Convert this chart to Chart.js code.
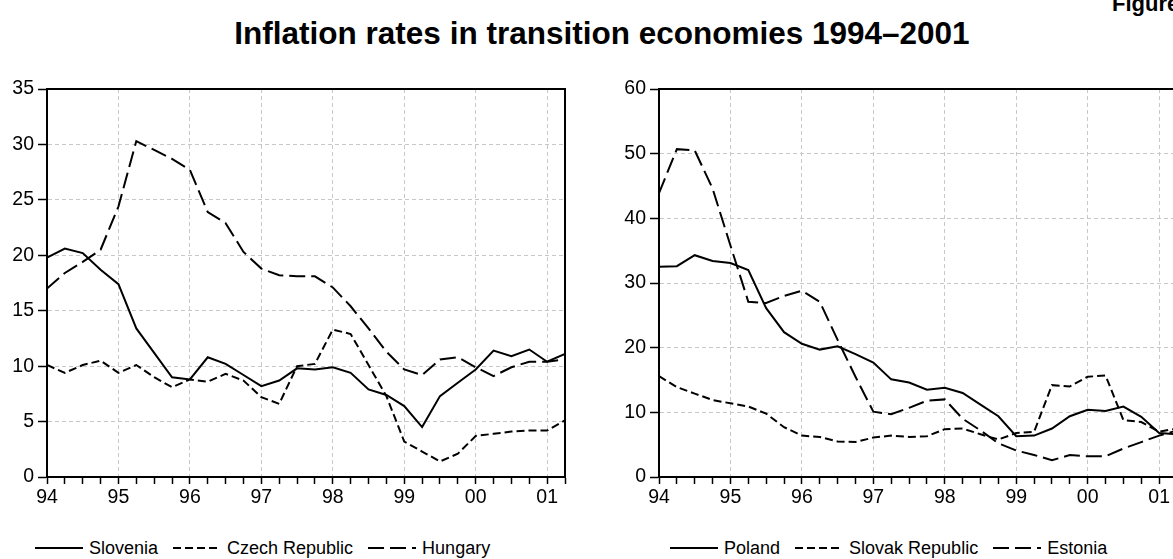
<!DOCTYPE html>
<html>
<head>
<meta charset="utf-8">
<script src="https://cdn.jsdelivr.net/npm/chart.js@4.4.1/dist/chart.umd.min.js"></script>
<style>
  html, body { margin: 0; padding: 0; background: #fff; }
  body { width: 1173px; height: 559px; overflow: hidden; position: relative; font-family: "Liberation Sans", Arial, sans-serif; }
  #title { position: absolute; left: 0; width: 1204px; top: 16px; text-align: center; font-weight: bold; font-size: 31.5px; line-height: 34px; color: #000; }
  #fig { position: absolute; left: 1112px; top: -8px; font-weight: bold; font-size: 22px; line-height: 24px; white-space: nowrap; }
  canvas { position: absolute; top: 70px; }
  #left { left: 0; }
  #right { left: 612px; }
  .legend { position: absolute; top: 537px; display: flex; align-items: center; white-space: nowrap; font-size: 18px; line-height: 22px; color: #000; }
  .legend .item { display: flex; align-items: center; margin-right: 15px; }
  .legend svg { margin-right: 6px; }
</style>
</head>
<body>
<div id="title">Inflation rates in transition economies 1994–2001</div>
<div id="fig">Figure</div>
<canvas id="left" width="575" height="437"></canvas>
<canvas id="right" width="575" height="437"></canvas>
<div class="legend" id="legendLeft" style="left:35px"></div>
<div class="legend" id="legendRight" style="left:670px"></div>
<script>
// quarterly data, 1994Q1 .. 2001Q2
const yearLabels = ['94', '95', '96', '97', '98', '99', '00', '01'];

const slovenia = [19.8, 20.6, 20.2, 18.7, 17.4, 13.4, 11.2, 9.0, 8.8, 10.8, 10.2, 9.2, 8.2, 8.7, 9.8,
                  9.7, 9.9, 9.4, 7.9, 7.4, 6.4, 4.5, 7.3, 8.5, 9.7, 11.4, 10.9, 11.5, 10.4, 11.1];
const czech = [10.1, 9.4, 10.1, 10.5, 9.4, 10.1, 9.0, 8.1, 8.8, 8.6, 9.3, 8.7, 7.2, 6.6, 10.0,
               10.2, 13.3, 12.9, 10.1, 7.3, 3.2, 2.3, 1.4, 2.1, 3.7, 3.9, 4.1, 4.2, 4.2, 5.1];
const hungary = [17.0, 18.4, 19.4, 20.5, 24.4, 30.3, 29.5, 28.7, 27.7, 23.9, 22.9, 20.3, 18.8, 18.2, 18.1,
                 18.1, 17.1, 15.4, 13.4, 11.3, 9.7, 9.2, 10.6, 10.8, 9.9, 9.1, 9.9, 10.4, 10.4, 10.6];

const poland = [32.5, 32.6, 34.3, 33.4, 33.1, 32.0, 26.1, 22.4, 20.6, 19.7, 20.2, 19.0, 17.7, 15.1, 14.6,
                13.5, 13.8, 13.0, 11.2, 9.4, 6.3, 6.4, 7.5, 9.4, 10.4, 10.2, 10.9, 9.3, 6.8, 6.6];
const slovak = [15.6, 13.9, 12.9, 11.9, 11.4, 10.9, 9.8, 7.7, 6.4, 6.2, 5.5, 5.4, 6.1, 6.4, 6.2,
                6.3, 7.4, 7.5, 6.6, 5.8, 6.8, 7.0, 14.2, 14.0, 15.5, 15.7, 8.8, 8.5, 7.0, 7.5];
const estonia = [43.9, 50.7, 50.5, 44.6, 35.8, 27.1, 26.9, 28.0, 28.8, 27.1, 21.2, 15.5, 10.1, 9.7, 10.7,
                 11.8, 12.0, 9.0, 7.2, 5.2, 4.1, 3.4, 2.6, 3.4, 3.2, 3.2, 4.4, 5.4, 6.4, 7.2];

// line styles: solid / short dash / long dash
const styles = [[], [8, 4], [16, 6]];

function toPoints(arr) {
    return arr.map((v, i) => ({ x: i, y: v }));
}

// black box around the plot area
const framePlugin = {
    id: 'frame',
    afterDraw(chart) {
        const a = chart.chartArea;
        const ctx = chart.ctx;
        ctx.save();
        ctx.strokeStyle = '#000';
        ctx.lineWidth = 2;
        ctx.strokeRect(a.left, a.top, a.right - a.left, a.bottom - a.top);
        ctx.restore();
    }
};

Chart.defaults.font.family = '"Liberation Sans", Arial, sans-serif';
Chart.defaults.font.size = 19.5;
Chart.defaults.color = '#000';

function makeChart(id, names, series, yMax, yStep) {
    const datasets = series.map((s, k) => ({
        label: names[k],
        data: toPoints(s),
        borderColor: '#000',
        borderWidth: 2,
        borderDash: styles[k],
        pointRadius: 0,
        tension: 0,
        fill: false
    }));
    return new Chart(document.getElementById(id), {
        type: 'line',
        data: { datasets: datasets },
        options: {
            responsive: false,
            animation: false,
            layout: { padding: { top: 19, right: 10, bottom: 0, left: 0 } },
            plugins: { legend: { display: false }, tooltip: { enabled: false } },
            scales: {
                x: {
                    type: 'linear',
                    min: 0,
                    max: series[0].length - 1,
                    afterFit: (scale) => { scale.height = 30; },
                    ticks: {
                        stepSize: 1,
                        autoSkip: false,
                        maxRotation: 0,
                        padding: 2,
                        callback: (v) => (v % 4 === 0 ? yearLabels[v / 4] : '')
                    },
                    grid: {
                        color: (c) => (c.tick && c.tick.value % 4 === 0 && c.tick.value > 0 ? '#c8c8c8' : 'rgba(0,0,0,0)'),
                        tickColor: '#000',
                        tickLength: 7,
                        tickWidth: 1.5,
                        lineWidth: 1
                    },
                    border: { color: '#000', width: 2, dash: [4, 3] }
                },
                y: {
                    min: 0,
                    max: yMax,
                    afterFit: (scale) => { scale.width = 47; },
                    ticks: { stepSize: yStep, padding: 4 },
                    grid: {
                        color: (c) => (c.tick && c.tick.value > 0 ? '#c8c8c8' : 'rgba(0,0,0,0)'),
                        tickColor: '#000',
                        tickLength: 9,
                        tickWidth: 1.5,
                        lineWidth: 1
                    },
                    border: { color: '#000', width: 2, dash: [4, 3] }
                }
            }
        },
        plugins: [framePlugin]
    });
}

function makeLegend(id, names) {
    const box = document.getElementById(id);
    names.forEach((n, k) => {
        const item = document.createElement('div');
        item.className = 'item';
        const dash = styles[k].length ? styles[k].join(' ') : 'none';
        item.innerHTML = '<svg width="48" height="4"><line x1="0" y1="2" x2="48" y2="2" stroke="#000" stroke-width="2" stroke-dasharray="' + dash + '"/></svg><span>' + n + '</span>';
        box.appendChild(item);
    });
}

const leftNames = ['Slovenia', 'Czech Republic', 'Hungary'];
const rightNames = ['Poland', 'Slovak Republic', 'Estonia'];

makeChart('left', leftNames, [slovenia, czech, hungary], 35, 5);
makeChart('right', rightNames, [poland, slovak, estonia], 60, 10);
makeLegend('legendLeft', leftNames);
makeLegend('legendRight', rightNames);
</script>
</body>
</html>
